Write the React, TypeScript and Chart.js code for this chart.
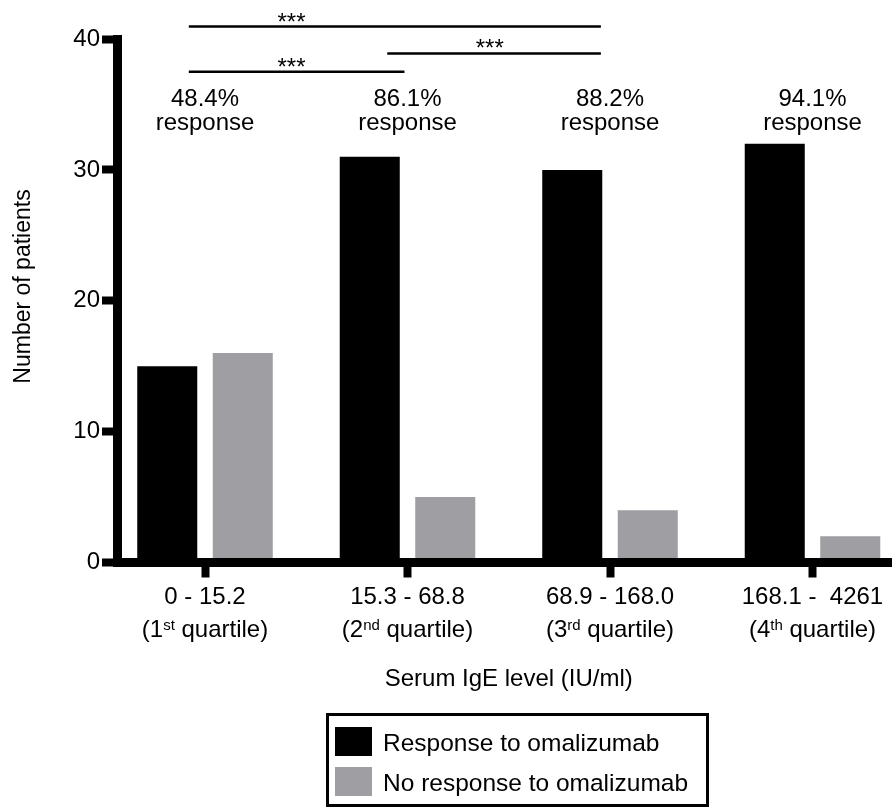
import React, { useEffect, useRef } from 'react';
import { Chart, registerables } from 'chart.js';

Chart.register(...registerables);

// ---- data ----
const categories = ['0 - 15.2', '15.3 - 68.8', '68.9 - 168.0', '168.1 -  4261'];
const quartileNumbers = ['1', '2', '3', '4'];
const quartileSuffixes = ['st', 'nd', 'rd', 'th'];
const responders = [15, 31, 30, 32];
const nonResponders = [16, 5, 4, 2];
const responseRates = ['48.4%', '86.1%', '88.2%', '94.1%'];
const seriesNames = ['Response to omalizumab', 'No response to omalizumab'];
const significance = ['***', '***', '***'];
const yTickStep = 10;
const yMax = 40;
const xAxisTitle = 'Serum IgE level (IU/ml)';
const yAxisTitle = 'Number of patients';

// ---- layout / style (kept apart from data) ----
const FONT = '"Liberation Sans", Arial, Helvetica, sans-serif';
const COLORS = ['#000000', '#9e9ea3'];
const bracketLayout = [
  { x1: -0.08, x2: 1.955, y: 40.95, starX: 0.427 },
  { x1: 0.9, x2: 1.955, y: 38.9, starX: 1.406 },
  { x1: -0.08, x2: 0.985, y: 37.5, starX: 0.427 },
];
const rateLabelY = 34.9;
const responseWordY = 33.05;

export default function App() {
  const ref = useRef<HTMLCanvasElement>(null);

  useEffect(() => {
    const canvas = ref.current;
    if (!canvas) return;

    const overlay = {
      id: 'overlay',
      afterDraw(chart: any) {
        const { ctx, chartArea } = chart;
        const xs = chart.scales.x;
        const ys = chart.scales.y;
        ctx.save();
        ctx.fillStyle = '#000';
        ctx.strokeStyle = '#000';
        ctx.textAlign = 'center';
        ctx.textBaseline = 'alphabetic';

        // response-rate annotations
        ctx.font = `24px ${FONT}`;
        responseRates.forEach((r, i) => {
          const x = xs.getPixelForValue(i);
          ctx.fillText(r, x, ys.getPixelForValue(rateLabelY));
          ctx.fillText('response', x, ys.getPixelForValue(responseWordY));
        });

        // significance brackets
        ctx.lineWidth = 2.5;
        bracketLayout.forEach((b, i) => {
          const y = ys.getPixelForValue(b.y);
          ctx.beginPath();
          ctx.moveTo(xs.getPixelForValue(b.x1), y);
          ctx.lineTo(xs.getPixelForValue(b.x2), y);
          ctx.stroke();
          ctx.fillText(significance[i], xs.getPixelForValue(b.starX), y + 3);
        });

        // x tick labels (two lines with superscript ordinals)
        const base = chartArea.bottom;
        categories.forEach((c, i) => {
          const x = xs.getPixelForValue(i);
          ctx.font = `24px ${FONT}`;
          ctx.textAlign = 'center';
          ctx.fillText(c, x, base + 41.5);
          const a = '(' + quartileNumbers[i];
          const s = quartileSuffixes[i];
          const b = ' quartile)';
          ctx.font = `24px ${FONT}`;
          const wa = ctx.measureText(a).width;
          const wb = ctx.measureText(b).width;
          ctx.font = `15px ${FONT}`;
          const ws = ctx.measureText(s).width;
          let sx = x - (wa + ws + wb) / 2;
          ctx.textAlign = 'left';
          ctx.font = `24px ${FONT}`;
          ctx.fillText(a, sx, base + 74.5);
          sx += wa;
          ctx.font = `15px ${FONT}`;
          ctx.fillText(s, sx, base + 67.5);
          sx += ws;
          ctx.font = `24px ${FONT}`;
          ctx.fillText(b, sx, base + 74.5);
        });

        // x axis title
        ctx.textAlign = 'center';
        ctx.font = `24px ${FONT}`;
        ctx.fillText(xAxisTitle, xs.getPixelForValue(1.5), base + 123.5);

        // y axis title
        ctx.save();
        ctx.translate(24, 286.5);
        ctx.rotate(-Math.PI / 2);
        ctx.font = `23px ${FONT}`;
        ctx.textBaseline = 'middle';
        ctx.fillText(yAxisTitle, 0, 0);
        ctx.restore();

        // legend box
        const lx = 327.5, ly = 714.5, lw = 380, lh = 91;
        ctx.lineWidth = 3;
        ctx.strokeRect(lx, ly, lw, lh);
        ctx.textAlign = 'left';
        ctx.font = `24.5px ${FONT}`;
        chart.data.datasets.forEach((ds: any, i: number) => {
          const top = ly + 12.5 + i * 40;
          ctx.fillStyle = ds.backgroundColor;
          ctx.fillRect(lx + 7.5, top, 37, 29);
          ctx.fillStyle = '#000';
          ctx.fillText(ds.label, lx + 55.5, top + 23.5);
        });

        ctx.restore();
      },
    };

    const chart = new Chart(canvas, {
      type: 'bar',
      data: {
        datasets: [
          {
            label: seriesNames[0],
            data: responders.map((v, i) => ({ x: i, y: v })),
            backgroundColor: COLORS[0],
            borderWidth: 0,
          },
          {
            label: seriesNames[1],
            data: nonResponders.map((v, i) => ({ x: i, y: v })),
            backgroundColor: COLORS[1],
            borderWidth: 0,
          },
        ],
      },
      options: {
        animation: false,
        responsive: false,
        categoryPercentage: 0.7457,
        barPercentage: 0.795,
        layout: { padding: { top: 39, left: 0, right: 0, bottom: 0 } },
        plugins: { legend: { display: false }, tooltip: { enabled: false } },
        scales: {
          x: {
            type: 'linear',
            min: -0.4346,
            max: 3.3926,
            offset: false,
            ticks: { stepSize: 1, display: false },
            afterBuildTicks: (axis: any) => {
              axis.ticks = axis.ticks.filter((t: any) => Number.isInteger(t.value));
            },
            afterFit: (s: any) => {
              s.height = 245.5;
            },
            grid: {
              offset: false,
              drawOnChartArea: false,
              drawTicks: true,
              tickLength: 15,
              tickWidth: 8,
              tickColor: '#000',
            },
            border: { display: true, width: 9, color: '#000', z: 1 },
          },
          y: {
            min: 0,
            max: yMax,
            ticks: {
              stepSize: yTickStep,
              color: '#000',
              padding: 2,
              font: { family: FONT, size: 24 },
            },
            afterFit: (s: any) => {
              s.width = 117;
            },
            grid: {
              drawOnChartArea: false,
              drawTicks: true,
              tickLength: 15,
              tickWidth: 8,
              tickColor: '#000',
            },
            border: { display: true, width: 9, color: '#000', z: 1 },
          },
        },
      },
      plugins: [overlay],
    } as any);

    return () => chart.destroy();
  }, []);

  return (
    <div style={{ position: 'fixed', left: 0, top: 0, width: 892, height: 808, background: '#fff' }}>
      <canvas ref={ref} width={892} height={808} style={{ width: 892, height: 808, display: 'block' }} />
    </div>
  );
}
